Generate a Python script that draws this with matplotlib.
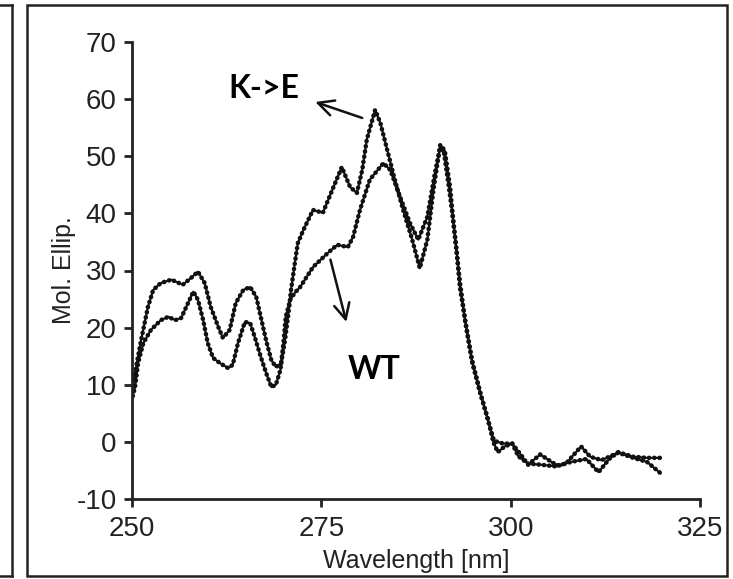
import matplotlib
matplotlib.use('Agg')
import matplotlib.pyplot as plt
from matplotlib.patches import Rectangle
from matplotlib.lines import Line2D

plt.rcParams['font.family'] = ['Liberation Sans', 'DejaVu Sans']
plt.rcParams['axes.unicode_minus'] = False

# K->E mutant spectrum
ke_x = [250.1, 250.4, 251.2, 252.1, 252.8, 253.8, 255.2, 256.7, 257.8, 258.7,
        259.6, 260.4, 261.4, 262.0, 262.9, 263.7, 264.7, 265.6, 266.4, 267.0,
        267.7, 268.4, 269.0, 269.7, 270.2, 270.6, 271.0, 271.5, 271.9, 272.6,
        273.9, 275.2, 276.6, 277.7, 278.8, 279.7, 280.4, 281.0, 282.1, 282.8,
        283.7, 284.7, 285.8, 287.0, 288.0, 289.0, 289.8, 290.7, 291.3, 292.0,
        292.4, 292.9, 293.3, 294.0, 294.9, 296.0, 297.0, 297.8, 299.0, 300.2,
        301.0, 302.3, 304.0, 306.0, 308.0, 310.0, 311.6, 313.0, 314.2, 316.2,
        318.0, 319.8]
ke_y = [10.0, 12.1, 17.8, 23.6, 26.6, 27.8, 28.4, 27.5, 28.7, 29.8,
        27.8, 23.6, 20.1, 18.2, 19.6, 24.3, 26.6, 27.1, 25.4, 21.9,
        17.8, 14.3, 13.1, 13.8, 17.8, 21.9, 26.6, 31.3, 34.8, 37.0,
        40.6, 40.1, 44.6, 48.1, 44.6, 43.6, 47.6, 52.9, 58.1, 55.8,
        51.1, 45.9, 40.6, 35.4, 30.4, 35.4, 44.1, 52.0, 51.0, 44.6,
        39.0, 33.0, 27.0, 21.3, 14.3, 8.6, 3.8, 0.2, -0.3, -0.3,
        -2.5, -3.8, -4.0, -4.3, -3.5, -3.0, -5.3, -3.0, -1.8, -2.6,
        -2.8, -2.8]

# wild type spectrum
wt_x = [250.1, 250.4, 250.8, 251.5, 252.5, 253.8, 254.8, 255.7, 256.5, 257.4,
        258.1, 258.7, 259.4, 260.0, 260.7, 261.6, 262.7, 263.3, 264.0, 264.9,
        265.6, 266.2, 267.0, 267.7, 268.4, 269.0, 269.6, 270.0, 270.3, 270.9,
        271.5, 272.2, 273.9, 275.8, 277.1, 278.5, 279.2, 280.1, 281.4, 283.2,
        284.1, 285.4, 286.7, 287.8, 289.0, 290.0, 290.7, 291.2, 291.8, 292.3,
        292.8, 293.3, 294.0, 294.9, 296.0, 297.0, 297.7, 298.3, 299.2, 300.2,
        301.2, 302.3, 303.9, 305.6, 306.5, 307.5, 309.3, 310.5, 312.0, 314.2,
        316.2, 318.0, 319.8]
wt_y = [8.0, 9.6, 13.8, 17.3, 19.6, 21.3, 21.9, 21.3, 21.7, 24.3,
        26.3, 24.9, 21.3, 17.3, 14.7, 13.8, 12.9, 13.5, 17.3, 21.0,
        20.8, 18.4, 14.9, 12.1, 9.6, 10.0, 12.6, 17.3, 21.9, 24.9,
        26.1, 27.1, 30.6, 33.0, 34.5, 34.1, 35.9, 40.6, 45.9, 48.8,
        47.6, 42.9, 38.3, 35.4, 39.4, 47.1, 51.6, 50.5, 45.0, 40.0,
        34.0, 28.0, 21.0, 14.0, 8.4, 4.0, 0.0, -1.8, -0.8, -0.3,
        -2.0, -4.0, -2.2, -3.7, -4.2, -3.5, -0.8, -2.6, -3.2, -1.9,
        -2.8, -3.5, -5.5]

x_ticks = [250, 275, 300, 325]
y_ticks = [-10, 0, 10, 20, 30, 40, 50, 60, 70]

W, H = 733, 579
fig = plt.figure(figsize=(W / 100, H / 100), dpi=100)
ax = fig.add_axes([132 / W, 1 - 499 / H, 568 / W, 457 / H])

# dense dotted trace over a thin solid core
dots = dict(color='#111111', lw=3.3, linestyle=(0, (0.05, 1.1)),
            dash_capstyle='round')
core = dict(color='#111111', lw=1.5, solid_joinstyle='round')
for xs, ys in [(ke_x, ke_y), (wt_x, wt_y)]:
    ax.plot(xs, ys, **core)
    ax.plot(xs, ys, **dots)

ax.set_xlim(250, 325)
ax.set_ylim(-10, 70)
ax.set_xticks(x_ticks)
ax.set_yticks(y_ticks)
for s in ['top', 'right']:
    ax.spines[s].set_visible(False)
for s in ['left', 'bottom']:
    ax.spines[s].set_linewidth(2.0)
    ax.spines[s].set_color('#222222')
ax.tick_params(axis='both', direction='out', length=6, width=2.0,
               color='#222222', labelsize=20, labelcolor='#222222')
ax.tick_params(axis='y', pad=5)
ax.tick_params(axis='x', pad=6)
ax.set_xlabel('Wavelength [nm]', fontsize=18, color='#222222', labelpad=5)
ax.set_ylabel('Mol. Ellip.', fontsize=18, color='#222222', labelpad=0)

# labels and arrows
ax.text(267.4, 61.8, 'K->E', fontsize=23, fontweight='bold', family='Lato',
        ha='center', va='center')
ax.text(282.0, 12.6, 'WT', fontsize=23, fontweight='bold', family='Lato',
        ha='center', va='center')
ax.annotate('', xy=(274.2, 59.5), xytext=(280.4, 56.7),
            arrowprops=dict(arrowstyle='->', lw=1.8, color='#111111',
                            mutation_scale=28, shrinkA=0, shrinkB=0))
ax.annotate('', xy=(278.3, 21.0), xytext=(276.2, 31.9),
            arrowprops=dict(arrowstyle='->', lw=1.8, color='#111111',
                            mutation_scale=28, shrinkA=0, shrinkB=0))

# panel frames
fig.add_artist(Rectangle((27 / W, 1 - 576 / H), 700 / W, 571 / H, fill=False,
                         lw=1.8, edgecolor='#222222', transform=fig.transFigure))
for xs, ys in [([0, 12 / W], [1 - 5 / H] * 2),
               ([12 / W] * 2, [1 - 5 / H, 1 - 576 / H]),
               ([0, 12 / W], [1 - 576 / H] * 2)]:
    fig.add_artist(Line2D(xs, ys, lw=1.8, color='#222222',
                          transform=fig.transFigure))

fig.savefig('out.png', dpi=100)
